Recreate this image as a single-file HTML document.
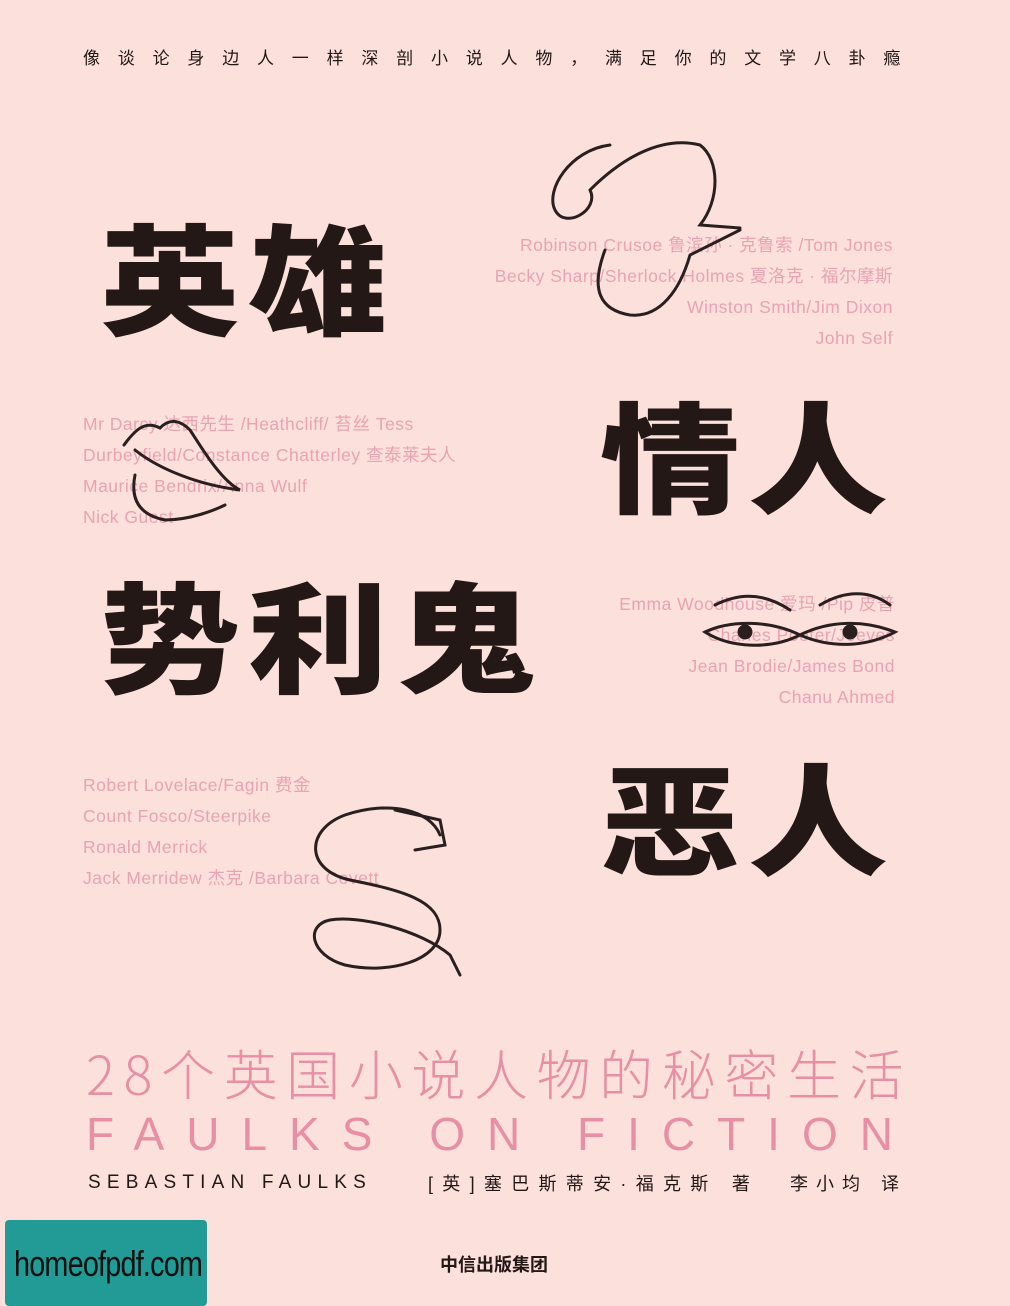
<!DOCTYPE html>
<html><head><meta charset="utf-8">
<style>
*{margin:0;padding:0;box-sizing:border-box}
body{width:1010px;height:1306px;background:#fbe0dc;position:relative;overflow:hidden;font-family:"Liberation Sans","Noto Sans CJK SC",sans-serif}
.a{position:absolute;white-space:nowrap}
.big{font-family:"Noto Sans CJK SC","WenQuanYi Zen Hei",sans-serif;font-weight:900;color:#231815;line-height:1;font-size:140px;transform:scaleY(0.86);transform-origin:top left}
.pk{color:#e9a3b3;font-size:17.5px;line-height:31px;letter-spacing:0.5px}
.r{text-align:right}
svg{position:absolute;left:0;top:0}
</style></head><body>
<div class="a" style="left:83px;top:44px;font-size:17px;letter-spacing:17.8px;color:#231815;font-family:'Noto Sans CJK SC',sans-serif;">像谈论身边人一样深剖小说人物，满足你的文学八卦瘾</div>

<div class="a big" style="left:100px;top:214px;letter-spacing:8px">英雄</div>
<div class="a big" style="left:600px;top:392px;letter-spacing:8px">情人</div>
<div class="a big" style="left:100px;top:572px;letter-spacing:8px">势利鬼</div>
<div class="a big" style="left:600px;top:754px;letter-spacing:8px">恶人</div>

<div class="a pk r" style="right:117px;top:230px">Robinson Crusoe 鲁滨孙 · 克鲁索 /Tom Jones<br>Becky Sharp/Sherlock Holmes 夏洛克 · 福尔摩斯<br>Winston Smith/Jim Dixon<br>John Self</div>
<div class="a pk" style="left:83px;top:409px">Mr Darcy 达西先生 /Heathcliff/ 苔丝 Tess<br>Durbeyfield/Constance Chatterley 查泰莱夫人<br>Maurice Bendrix/Anna Wulf<br>Nick Guest</div>
<div class="a pk r" style="right:115px;top:589px">Emma Woodhouse 爱玛 /Pip 皮普<br>Charles Pooter/Jeeves<br>Jean Brodie/James Bond<br>Chanu Ahmed</div>
<div class="a pk" style="left:83px;top:770px">Robert Lovelace/Fagin 费金<br>Count Fosco/Steerpike<br>Ronald Merrick<br>Jack Merridew 杰克 /Barbara Covett</div>

<svg width="1010" height="1306" fill="none" stroke="#2a1f1f" stroke-width="3" stroke-linecap="round">
<path d="M610 145 C570 150 545 190 555 210 C565 230 600 210 590 190 C620 160 660 135 700 145 C720 160 720 200 700 225 L740 228"/>
<path d="M605 250 C590 290 600 310 630 315 C660 318 680 290 690 255 L740 230"/>
<path d="M124 445 C135 430 145 420 160 428 C170 418 180 420 190 430 C200 445 220 480 240 490 C200 485 160 470 135 450 M135 475 C130 500 140 515 165 520 C190 520 215 510 225 505"/>
<path d="M715 605 C735 595 760 590 790 610 M705 632 C730 620 770 620 800 635 C770 650 730 648 705 632 Z"/>
<path d="M820 605 C845 590 870 590 890 605 M800 635 C830 620 865 620 895 632 C865 648 830 648 800 635 Z"/>
<circle cx="745" cy="632" r="6" fill="#2a1f1f"/><circle cx="850" cy="632" r="6" fill="#2a1f1f"/>
<path d="M440 835 C430 810 390 800 345 815 C305 830 305 870 350 880 C400 890 440 900 440 930 C440 960 390 975 345 965 C310 955 305 925 330 920 C360 915 420 930 450 955 L460 975"/>
<path d="M395 810 L440 820 L445 845 L415 850" />
</svg>

<div class="a" style="left:86px;top:1040px;font-size:54px;color:#e78fa4;font-family:'Noto Sans CJK SC',sans-serif;font-weight:300;letter-spacing:8.6px;line-height:64px">28个英国小说人物的秘密生活</div>
<div class="a" style="left:86px;top:1108px;font-size:46px;color:#e78fa4;letter-spacing:22px;line-height:52px;font-weight:300">FAULKS ON FICTION</div>

<div class="a" style="left:88px;top:1172px;font-size:19px;letter-spacing:6.2px;color:#231815">SEBASTIAN FAULKS</div>
<div class="a" style="left:428px;top:1170px;font-size:18px;letter-spacing:9.3px;color:#231815">[英]塞巴斯蒂安·福克斯 著</div>
<div class="a" style="left:790px;top:1170px;font-size:18px;letter-spacing:8px;color:#231815">李小均 译</div>

<div class="a" style="left:5px;top:1220px;width:202px;height:86px;background:#229a95;border-radius:4px;"></div>
<div class="a" style="left:14px;top:1243px;font-size:36px;color:#111;transform:scaleX(0.8);transform-origin:left;letter-spacing:-1px">homeofpdf.com</div>
<div class="a" style="left:440px;top:1251px;font-size:18px;font-weight:bold;color:#231815;font-family:'Noto Sans CJK SC',sans-serif">中信出版集团</div>
</body></html>
